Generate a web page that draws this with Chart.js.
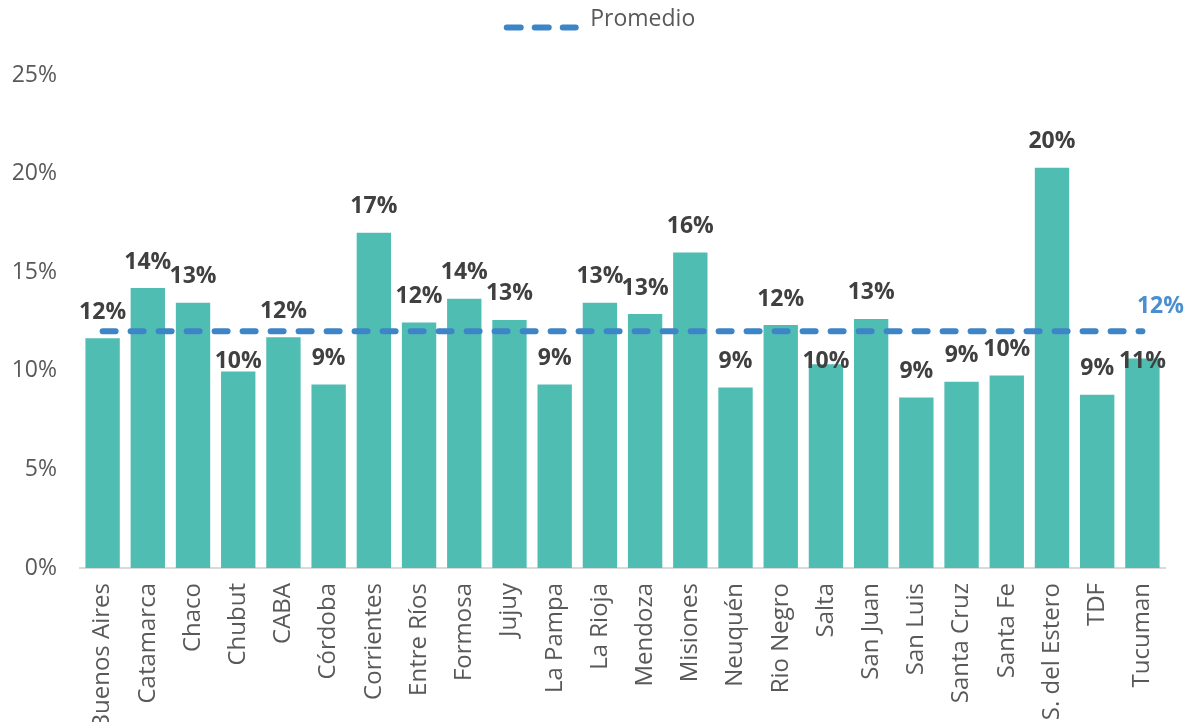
<!DOCTYPE html>
<html>
<head>
<meta charset="utf-8">
<script src="https://cdn.jsdelivr.net/npm/chart.js@4/dist/chart.umd.min.js"></script>
<style>
    body { margin: 0; background: #fff; }
    #caja { width: 1190px; height: 722px; }
</style>
</head>
<body>
<div id="caja"><canvas id="grafico" width="1190" height="722"></canvas></div>
<script>
const provincias = ['Buenos Aires', 'Catamarca', 'Chaco', 'Chubut', 'CABA', 'Córdoba', 'Corrientes',
    'Entre Ríos', 'Formosa', 'Jujuy', 'La Pampa', 'La Rioja', 'Mendoza', 'Misiones', 'Neuquén',
    'Rio Negro', 'Salta', 'San Juan', 'San Luis', 'Santa Cruz', 'Santa Fe', 'S. del Estero', 'TDF', 'Tucuman'];
const tasas = [11.65, 14.2, 13.45, 9.97, 11.7, 9.3, 17.0, 12.45, 13.65, 12.58, 9.3, 13.45,
    12.88, 16.0, 9.15, 12.32, 10.33, 12.63, 8.64, 9.45, 9.76, 20.3, 8.79, 10.63];
const promedio = 12;
const ticks_y = [0, 5, 10, 15, 20, 25];

const fuente = '"Open Sans", "DejaVu Sans", sans-serif';
const gris = '#595959';
const azul = '#3D85C6';

// etiquetas de cada barra, del promedio y la muestra punteada de la leyenda
const etiquetas = {
    id: 'etiquetas',
    beforeLayout(chart){
        const leyenda = chart.legend;
        if(leyenda && !leyenda._alto_extra){
            const fit = leyenda.fit;
            leyenda.fit = function(){ fit.call(this); this.height += 34; };
            leyenda._alto_extra = true;
        }
    },
    afterUpdate(chart){
        // la leyenda del original esta un poco corrida a la derecha
        const leyenda = chart.legend;
        leyenda.left += 17;
        leyenda.right += 17;
        leyenda.adjustHitBoxes();
    },
    afterDatasetsDraw(chart){
        const ctx = chart.ctx;
        const y = chart.scales.y;
        const barras = chart.getDatasetMeta(1).data;
        const linea_y = y.getPixelForValue(promedio);

        ctx.save();
        ctx.font = 'bold 23px ' + fuente;
        ctx.fillStyle = '#404040';
        ctx.textAlign = 'center';
        ctx.textBaseline = 'middle';

        barras.forEach(function(barra, i){
            let centro = barra.y - 26;
            // si choca con la linea del promedio, va debajo
            if(centro + 10 > linea_y - 7 && centro - 10 < linea_y + 7){
                centro = linea_y + 30;
            }
            ctx.fillText(Math.round(tasas[i]) + '%', barra.x, centro);
        });

        const puntos = chart.getDatasetMeta(0).data;
        const ultimo = puntos[puntos.length - 1];
        ctx.fillStyle = '#4A8FCF';
        ctx.fillText(promedio + '%', ultimo.x + 18, linea_y - 25);
        ctx.restore();
    },
    afterDraw(chart){
        const caja = chart.legend.legendHitBoxes[0];
        if(!caja) return;
        const ctx = chart.ctx;
        const yc = caja.top + caja.height / 2;
        ctx.save();
        ctx.strokeStyle = azul;
        ctx.lineWidth = 6;
        ctx.lineCap = 'round';
        ctx.setLineDash([14, 14]);
        ctx.beginPath();
        ctx.moveTo(caja.left + 3, yc);
        ctx.lineTo(caja.left + 72, yc);
        ctx.stroke();
        ctx.restore();
    }
};

new Chart(document.getElementById('grafico'), {
    data: {
        labels: provincias,
        datasets: [{
            type: 'line',
            label: 'Promedio',
            data: provincias.map(() => promedio),
            borderColor: azul,
            backgroundColor: azul,
            borderWidth: 6,
            borderDash: [13, 15],
            borderCapStyle: 'round',
            pointRadius: 0,
            order: 0
        }, {
            type: 'bar',
            label: 'Tasa',
            data: tasas,
            backgroundColor: '#50BDB3',
            barPercentage: 0.76,
            categoryPercentage: 1,
            order: 1
        }]
    },
    options: {
        responsive: false,
        animation: false,
        layout: { padding: { top: 0, right: 25, left: 0, bottom: 0 } },
        plugins: {
            tooltip: { enabled: false },
            legend: {
                position: 'top',
                labels: {
                    generateLabels: () => [{
                        text: 'Promedio',
                        fillStyle: 'rgba(0,0,0,0)',
                        strokeStyle: 'rgba(0,0,0,0)',
                        lineWidth: 0,
                        fontColor: gris,
                        datasetIndex: 0
                    }],
                    boxWidth: 75,
                    boxHeight: 6,
                    color: gris,
                    font: { family: fuente, size: 23 },
                    padding: 8
                }
            }
        },
        scales: {
            x: {
                grid: { display: false, drawTicks: false },
                border: { color: '#D9D9D9', width: 2 },
                ticks: {
                    color: gris,
                    font: { family: fuente, size: 24 },
                    minRotation: 90,
                    maxRotation: 90,
                    autoSkip: false,
                    padding: 15
                },
                afterFit: (s) => { s.height = 154; }
            },
            y: {
                min: 0,
                max: 25,
                grid: { display: false, drawTicks: false },
                border: { display: false },
                afterBuildTicks: (s) => { s.ticks = ticks_y.map(v => ({ value: v })); },
                ticks: {
                    color: gris,
                    font: { family: fuente, size: 23 },
                    padding: 23,
                    callback: (v) => v + '%'
                },
                afterFit: (s) => { s.width = 80; }
            }
        }
    },
    plugins: [etiquetas]
});
</script>
</body>
</html>
